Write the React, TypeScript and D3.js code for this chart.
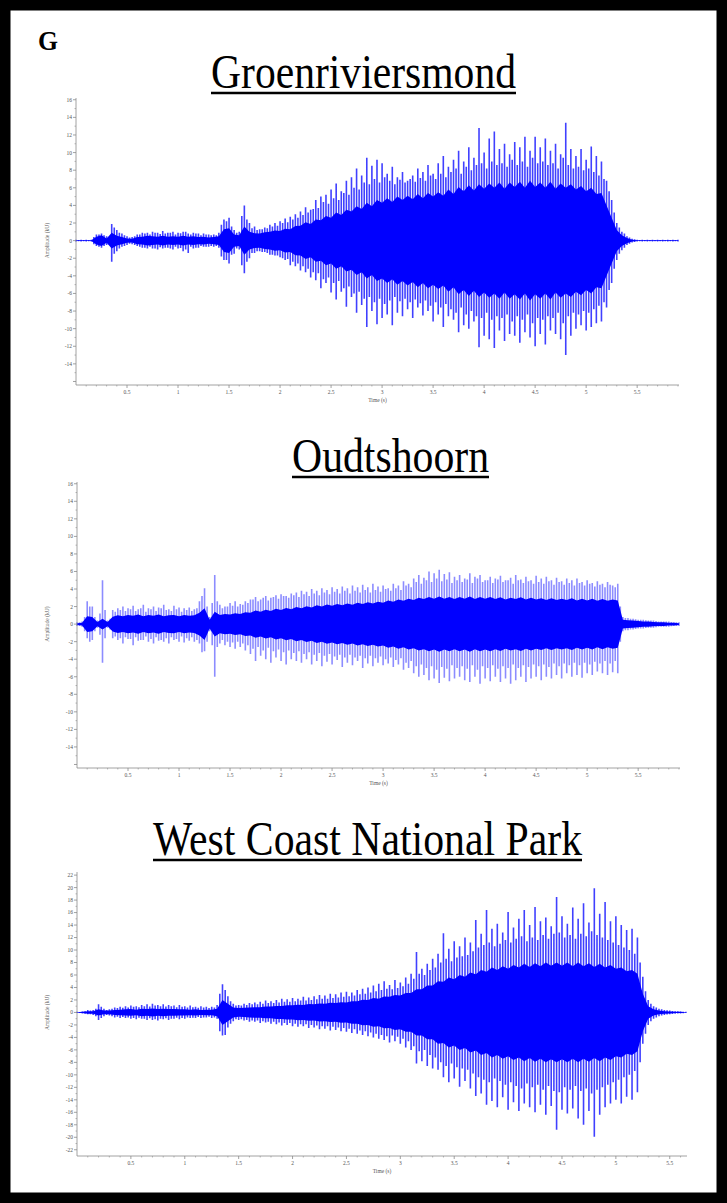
import * as d3 from "d3";

const W = 727;
const H = 1203;
const STEP = 0.05; // seconds between envelope samples

// Groenriviersmond — envelope samples every 0.05 s from t = 0
const groenTop = [
  0.1, 0.1, 0.1, 0.1, 0.7, 0.8, 0.5, 1.9, 1.2, 0.8, 0.5, 0.4, 0.7, 0.9, 0.9, 1.0, 0.9, 1.1, 0.9, 1.0,
  0.9, 1.0, 0.8, 0.9, 0.8, 0.8, 0.7, 0.7, 0.9, 2.4, 2.6, 1.2, 1.0, 4.0, 2.0, 1.6, 1.3, 1.5, 1.8, 2.0,
  2.2, 2.5, 2.7, 3.0, 3.3, 3.8, 3.5, 4.6, 5.0, 5.2, 5.8, 6.5, 5.6, 6.8, 7.2, 8.2, 7.4, 9.4, 8.5, 9.2,
  8.8, 7.6, 8.4, 7.2, 7.8, 6.8, 7.4, 8.2, 7.8, 8.6, 7.6, 8.8, 9.6, 8.4, 9.2, 10.2, 9.0, 10.6, 9.4, 12.8,
  10.0, 11.6, 12.4, 10.4, 11.0, 9.8, 11.2, 10.6, 11.8, 10.2, 11.8, 10.6, 11.6, 10.2, 11.0, 9.8, 13.4, 10.4, 9.6, 10.4,
  9.2, 10.7, 9.6, 9.0, 6.8, 4.6, 2.0, 1.0, 0.5, 0.2, 0.1, 0.1, 0.1, 0.1, 0.1, 0.1, 0.1, 0.1, 0.1,
];
const groenBottom = [
  -0.1, -0.1, -0.1, -0.1, -0.6, -0.8, -0.5, -2.4, -1.2, -0.7, -0.5, -0.4, -0.6, -0.8, -0.9, -0.9, -1.0, -0.9, -0.8, -1.0,
  -0.9, -1.2, -1.4, -0.9, -0.8, -0.7, -0.7, -0.7, -0.8, -2.2, -2.6, -1.5, -1.0, -3.7, -2.0, -1.4, -1.2, -1.3, -1.6, -1.7,
  -1.9, -2.2, -2.8, -2.9, -3.4, -3.6, -4.2, -4.5, -5.4, -4.8, -5.9, -6.7, -5.8, -7.5, -6.4, -8.2, -7.3, -9.8, -8.0, -9.5,
  -8.8, -8.4, -9.6, -8.2, -8.6, -7.8, -8.8, -7.6, -8.5, -8.0, -9.2, -8.4, -9.8, -8.6, -9.0, -10.4, -9.6, -10.0, -9.2, -12.1,
  -10.8, -11.2, -12.2, -10.2, -11.4, -10.6, -10.8, -11.6, -10.4, -11.0, -12.0, -10.6, -11.8, -10.2, -10.6, -11.2, -13.0, -10.8, -10.0, -9.6,
  -10.2, -9.8, -9.4, -9.2, -7.6, -4.8, -2.2, -1.1, -0.5, -0.2, -0.1, -0.1, -0.1, -0.1, -0.1, -0.1, -0.1, -0.1, -0.1,
];
// secondary peaks, half-way between the samples above (t = 0.025, 0.075, ...)
const groenMid = [
  0.08, 0.08, 0.08, 0.4, 0.7, 0.6, 0.4, 1.5, 0.9, 0.6, 0.35, 0.5, 0.7, 0.8, 0.7, 0.9, 0.75, 0.8, 0.9, 0.7,
  0.85, 1.0, 0.7, 0.8, 0.6, 0.7, 0.6, 0.6, 1.8, 2.2, 1.6, 0.9, 2.8, 2.4, 1.4, 1.2, 1.3, 1.4, 1.6, 1.7,
  2.0, 2.1, 2.4, 2.6, 2.9, 3.2, 3.6, 3.7, 4.4, 4.2, 4.8, 4.6, 5.4, 5.2, 6.0, 5.8, 6.6, 6.4, 7.0, 6.6,
  7.2, 6.8, 6.4, 6.9, 6.6, 7.0, 6.7, 7.1, 6.8, 7.4, 7.0, 7.6, 7.2, 7.8, 8.2, 7.6, 8.4, 8.0, 8.6, 8.8,
  8.2, 9.0, 8.6, 8.8, 8.4, 9.2, 8.6, 9.0, 8.4, 9.4, 8.8, 9.0, 8.6, 8.8, 8.2, 9.4, 8.6, 8.2, 8.4, 8.0,
  8.2, 7.8, 7.4, 7.0, 5.6, 3.2, 1.5, 0.8, 0.35, 0.15, 0.08, 0.08, 0.08, 0.08, 0.08, 0.08, 0.08, 0.08,
];
const groenCore = [
  0.05, 0.05, 0.05, 0.05, 0.45, 0.6, 0.25, 0.9, 0.55, 0.4, 0.25, 0.2, 0.4, 0.45, 0.55, 0.5, 0.45, 0.55, 0.45, 0.5,
  0.45, 0.55, 0.45, 0.5, 0.4, 0.45, 0.35, 0.4, 0.5, 1.3, 1.4, 0.7, 0.6, 1.6, 1.0, 0.85, 0.8, 0.95, 1.0, 1.15,
  1.1, 1.35, 1.3, 1.65, 1.7, 2.1, 1.9, 2.4, 2.3, 2.8, 2.6, 3.2, 2.9, 3.5, 3.3, 3.9, 3.6, 4.3, 3.9, 4.6,
  4.3, 4.8, 4.4, 5.0, 4.6, 5.1, 4.7, 5.3, 4.8, 5.4, 5.0, 5.5, 5.1, 5.8, 5.3, 6.1, 5.6, 6.3, 5.7, 6.4,
  5.9, 6.5, 6.0, 6.6, 5.9, 6.6, 6.1, 6.7, 6.0, 6.8, 6.1, 6.6, 6.0, 6.7, 5.9, 6.5, 6.0, 6.4, 5.8, 6.2,
  5.6, 6.0, 5.3, 5.4, 4.0, 2.6, 1.2, 0.6, 0.3, 0.1, 0.05, 0.05, 0.05, 0.05, 0.05, 0.05, 0.05, 0.05, 0.05,
];

// Oudtshoorn
const oudtTop = [
  0.2, 0.3, 2.6, 2.0, 0.4, 5.0, 0.4, 1.6, 1.8, 2.0, 1.8, 2.1, 1.7, 2.2, 1.8, 2.0, 1.9, 2.2, 1.7, 2.1,
  1.9, 1.8, 1.9, 1.7, 2.6, 4.1, 0.8, 5.6, 2.2, 2.0, 2.4, 2.6, 2.3, 2.6, 2.8, 3.1, 2.8, 3.2, 3.0, 3.3,
  3.4, 3.2, 3.5, 3.6, 3.8, 3.7, 4.0, 3.8, 4.1, 3.9, 4.2, 4.0, 4.3, 4.1, 4.4, 4.2, 4.5, 4.2, 4.6, 4.3,
  4.4, 4.1, 4.6, 4.4, 4.9, 4.6, 5.2, 5.6, 5.3, 6.0, 5.8, 6.2, 5.7, 5.9, 5.4, 5.6, 5.2, 5.8, 5.4, 5.6,
  5.0, 5.4, 5.2, 5.5, 5.0, 5.3, 5.6, 5.1, 5.4, 5.0, 5.5, 5.2, 5.4, 5.0, 5.3, 4.9, 5.2, 5.0, 5.2, 4.8,
  5.0, 4.7, 4.9, 4.6, 4.8, 4.4, 4.6, 0.8, 0.7, 0.6, 0.5, 0.5, 0.4, 0.4, 0.3, 0.3, 0.3, 0.2, 0.2,
];
const oudtBottom = [
  -0.2, -0.3, -1.6, -1.8, -0.4, -4.4, -0.4, -1.6, -1.8, -2.2, -1.7, -2.4, -1.9, -1.8, -2.0, -2.2, -1.9, -2.0, -2.2, -1.8,
  -2.0, -2.1, -1.9, -2.0, -2.2, -3.1, -0.8, -6.0, -2.2, -2.4, -2.6, -2.8, -2.6, -3.0, -3.4, -4.2, -3.6, -4.0, -4.4, -3.8,
  -4.2, -4.6, -4.0, -4.2, -4.4, -4.0, -4.6, -4.2, -4.8, -4.3, -4.6, -4.1, -4.9, -4.4, -4.7, -4.2, -5.0, -4.5, -4.8, -4.4,
  -4.7, -4.5, -4.9, -4.6, -5.2, -5.0, -5.6, -6.0, -5.8, -6.4, -6.2, -6.7, -6.1, -6.5, -6.2, -6.0, -6.4, -6.6, -6.0, -6.8,
  -6.2, -6.5, -6.0, -6.6, -6.2, -6.8, -6.4, -6.0, -6.6, -6.2, -6.0, -6.4, -6.0, -6.2, -5.8, -6.2, -5.6, -6.0, -5.8, -6.1,
  -5.6, -5.8, -5.4, -5.6, -5.8, -5.5, -5.6, -0.8, -0.7, -0.6, -0.5, -0.5, -0.4, -0.4, -0.3, -0.3, -0.3, -0.2, -0.2,
];
const oudtMid = [
  0.2, 0.8, 2.0, 0.8, 1.2, 1.6, 0.6, 1.4, 1.6, 1.5, 1.7, 1.5, 1.8, 1.4, 1.7, 1.5, 1.8, 1.6, 1.5, 1.7,
  1.4, 1.6, 1.5, 1.8, 3.2, 2.0, 2.4, 2.6, 1.8, 2.0, 2.1, 2.0, 2.2, 2.4, 2.8, 2.6, 3.0, 2.7, 3.1, 2.9,
  3.2, 3.0, 3.3, 3.1, 3.4, 3.2, 3.5, 3.3, 3.6, 3.4, 3.7, 3.5, 3.8, 3.5, 3.8, 3.6, 3.9, 3.6, 3.9, 3.7,
  4.0, 3.8, 4.1, 3.9, 4.4, 4.2, 4.8, 4.6, 5.0, 4.8, 5.2, 4.9, 5.1, 4.7, 5.0, 4.8, 5.1, 4.7, 5.2, 4.8,
  5.0, 4.7, 5.1, 4.8, 5.0, 4.6, 5.0, 4.7, 4.9, 4.6, 4.8, 4.6, 4.9, 4.5, 4.8, 4.5, 4.7, 4.4, 4.7, 4.4,
  4.6, 4.3, 4.5, 4.2, 4.5, 4.2, 2.0, 0.7, 0.6, 0.55, 0.5, 0.45, 0.4, 0.35, 0.3, 0.3, 0.25, 0.2,
];
const oudtCore = [
  0.1, 0.15, 0.9, 0.8, 0.25, 0.6, 0.25, 0.85, 1.0, 0.9, 1.05, 0.95, 1.1, 0.9, 1.05, 0.95, 1.1, 0.9, 1.0, 1.05,
  0.9, 1.05, 0.95, 1.0, 1.3, 1.8, 0.5, 1.4, 1.05, 1.15, 1.1, 1.25, 1.15, 1.35, 1.3, 1.55, 1.4, 1.65, 1.5, 1.75,
  1.6, 1.85, 1.7, 1.95, 1.8, 2.05, 1.9, 2.15, 2.0, 2.25, 2.1, 2.3, 2.15, 2.35, 2.2, 2.45, 2.3, 2.5, 2.35, 2.55,
  2.45, 2.7, 2.55, 2.8, 2.65, 2.9, 2.75, 3.0, 2.85, 3.1, 2.9, 3.15, 2.9, 3.1, 2.85, 3.1, 2.9, 3.15, 2.85, 3.1,
  2.9, 3.1, 2.85, 3.05, 2.8, 3.0, 2.85, 3.05, 2.8, 3.0, 2.8, 2.95, 2.75, 2.95, 2.75, 2.9, 2.75, 2.95, 2.7, 2.9,
  2.7, 2.9, 2.65, 2.85, 2.65, 2.8, 2.7, 0.5, 0.45, 0.4, 0.35, 0.3, 0.3, 0.25, 0.2, 0.2, 0.15, 0.15, 0.1,
];

// West Coast National Park
const westTop = [
  0.1, 0.15, 0.4, 0.4, 1.3, 0.6, 0.5, 0.8, 0.9, 1.0, 1.1, 1.0, 1.2, 1.3, 1.4, 1.2, 1.3, 1.2, 1.1, 1.2,
  1.0, 1.1, 0.9, 1.0, 0.9, 0.9, 1.2, 4.5, 2.6, 1.4, 1.2, 1.4, 1.5, 1.6, 1.7, 1.9, 1.8, 2.0, 2.2, 2.1,
  2.3, 2.2, 2.5, 2.4, 2.6, 2.8, 2.7, 3.0, 2.9, 3.2, 3.3, 3.2, 3.6, 3.8, 4.0, 4.3, 4.6, 5.0, 4.4, 5.2,
  4.8, 5.6, 6.2, 9.7, 7.0, 7.8, 8.6, 9.4, 12.7, 10.2, 11.4, 10.6, 12.0, 11.2, 14.8, 12.6, 16.4, 13.4, 14.2, 12.8,
  16.1, 13.6, 15.0, 16.4, 14.0, 16.9, 14.6, 15.2, 13.8, 18.5, 15.4, 14.2, 16.8, 15.0, 17.5, 14.4, 19.9, 15.8, 17.7, 14.6,
  15.4, 14.0, 13.2, 13.4, 12.0, 5.7, 2.0, 1.0, 0.6, 0.4, 0.3, 0.2, 0.15, 0.1,
];
const westBottom = [
  -0.1, -0.15, -0.3, -0.4, -1.2, -0.6, -0.5, -0.8, -0.9, -0.9, -1.0, -1.1, -1.0, -1.2, -1.2, -1.3, -1.1, -1.2, -1.0, -1.1,
  -1.0, -0.9, -0.9, -0.9, -0.8, -0.9, -1.0, -3.7, -2.4, -1.4, -1.2, -1.3, -1.5, -1.5, -1.7, -1.6, -1.8, -1.9, -2.1, -2.0,
  -2.2, -2.3, -2.2, -2.5, -2.4, -2.7, -2.6, -2.9, -2.8, -3.0, -3.1, -3.3, -3.4, -3.6, -3.8, -4.0, -4.2, -4.4, -4.8, -4.6,
  -5.0, -5.6, -6.0, -8.2, -7.8, -8.6, -9.0, -9.2, -10.4, -11.2, -10.6, -11.9, -11.0, -12.2, -13.4, -13.0, -14.8, -14.2, -15.2, -13.6,
  -15.6, -14.4, -15.8, -14.6, -15.2, -16.0, -14.8, -16.4, -15.0, -18.8, -15.6, -16.2, -15.4, -17.0, -18.0, -15.8, -19.9, -16.4, -15.2, -14.6,
  -14.0, -14.6, -13.5, -14.0, -12.8, -5.0, -2.0, -1.0, -0.6, -0.4, -0.3, -0.2, -0.15, -0.1,
];
const westMid = [
  0.08, 0.2, 0.3, 0.6, 0.9, 0.4, 0.6, 0.7, 0.75, 0.8, 0.9, 0.85, 1.0, 0.95, 1.1, 1.0, 0.95, 1.0, 0.85, 0.9,
  0.8, 0.85, 0.75, 0.8, 0.7, 0.8, 3.0, 3.6, 1.8, 1.1, 1.1, 1.2, 1.3, 1.3, 1.4, 1.5, 1.5, 1.6, 1.7, 1.7,
  1.8, 1.9, 1.9, 2.0, 2.1, 2.2, 2.2, 2.3, 2.4, 2.5, 2.6, 2.7, 2.9, 3.0, 3.2, 3.4, 3.6, 3.8, 3.7, 3.9,
  4.2, 4.6, 5.4, 6.2, 6.0, 6.8, 7.2, 8.0, 8.6, 8.2, 8.8, 9.0, 9.2, 9.8, 10.4, 10.8, 11.2, 10.6, 11.0, 11.6,
  11.2, 11.8, 12.2, 11.4, 12.0, 11.6, 12.4, 11.8, 12.6, 12.8, 12.0, 12.4, 11.8, 12.6, 12.2, 13.0, 12.4, 12.0, 11.6, 11.2,
  10.8, 10.4, 10.0, 9.4, 8.0, 3.4, 1.4, 0.8, 0.5, 0.35, 0.25, 0.18, 0.12,
];
const westCore = [
  0.05, 0.1, 0.2, 0.2, 0.5, 0.3, 0.3, 0.4, 0.45, 0.5, 0.55, 0.45, 0.6, 0.55, 0.65, 0.55, 0.6, 0.55, 0.55, 0.5,
  0.5, 0.45, 0.5, 0.4, 0.45, 0.45, 0.6, 2.0, 1.4, 0.8, 0.7, 0.75, 0.8, 0.85, 0.85, 0.95, 0.95, 1.05, 1.05, 1.15,
  1.15, 1.25, 1.2, 1.35, 1.3, 1.45, 1.4, 1.55, 1.5, 1.65, 1.6, 1.8, 1.8, 2.05, 2.0, 2.3, 2.2, 2.55, 2.5, 2.8,
  2.7, 3.1, 3.1, 3.7, 3.7, 4.3, 4.3, 5.0, 4.9, 5.6, 5.3, 6.0, 5.7, 6.4, 6.1, 6.8, 6.5, 7.2, 6.8, 7.4,
  7.0, 7.6, 7.2, 7.8, 7.3, 7.9, 7.4, 8.0, 7.5, 8.0, 7.5, 8.0, 7.4, 8.0, 7.4, 7.9, 7.3, 7.8, 7.2, 7.6,
  7.0, 7.2, 6.6, 6.8, 6.2, 3.0, 1.0, 0.5, 0.3, 0.2, 0.15, 0.1, 0.1, 0.05,
];

const xTickValues = [0.5, 1, 1.5, 2, 2.5, 3, 3.5, 4, 4.5, 5, 5.5];

type Panel = {
  title: string;
  titleX: [number, number];
  titleY: number;
  top: number[];
  bottom: number[];
  mid: number[];
  core: number[];
  tMax: number;
  xRange: [number, number];
  vDomain: [number, number];
  yRange: [number, number];
  yTickMax: number;
  labelBottom: boolean;
  spikeOpacity: number;
};

const panels: Panel[] = [
  {
    title: "Groenriviersmond",
    titleX: [211, 516],
    titleY: 88,
    top: groenTop,
    bottom: groenBottom,
    mid: groenMid,
    core: groenCore,
    tMax: 5.91,
    xRange: [76, 679],
    vDomain: [-16.4, 16.2],
    yRange: [385, 98],
    yTickMax: 16,
    labelBottom: false,
    spikeOpacity: 0.75,
  },
  {
    title: "Oudtshoorn",
    titleX: [292, 489],
    titleY: 472,
    top: oudtTop,
    bottom: oudtBottom,
    mid: oudtMid,
    core: oudtCore,
    tMax: 5.91,
    xRange: [77, 680],
    vDomain: [-16.4, 16.2],
    yRange: [768, 482],
    yTickMax: 16,
    labelBottom: false,
    spikeOpacity: 0.45,
  },
  {
    title: "West Coast National Park",
    titleX: [153, 582],
    titleY: 855,
    top: westTop,
    bottom: westBottom,
    mid: westMid,
    core: westCore,
    tMax: 5.66,
    xRange: [77, 687],
    vDomain: [-23, 22.5],
    yRange: [1156, 872],
    yTickMax: 22,
    labelBottom: true,
    spikeOpacity: 0.75,
  },
];

const SERIF = "'Liberation Serif', 'Times New Roman', serif";
const AXIS = "#8a8a8a";
const LABEL = "#555";

function WavePanel({ p }: { p: Panel }) {
  const x = d3.scaleLinear().domain([0, p.tMax]).range(p.xRange);
  const y = d3.scaleLinear().domain(p.vDomain).range(p.yRange);
  const [x0, x1] = p.xRange;
  const [yBot, yTop] = p.yRange;

  const coreArea = d3
    .area<number>()
    .x((_, i) => x(i * STEP))
    .y0((d) => y(-d))
    .y1((d) => y(d))(p.core);

  // vertical strokes: main peaks at each sample, secondary peaks half a step later
  const spikes = d3.path();
  p.top.forEach((v, i) => {
    const t = i * STEP;
    spikes.moveTo(x(t), y(v));
    spikes.lineTo(x(t), y(p.bottom[i]));
    if (i < p.mid.length) {
      const tm = t + STEP / 2;
      spikes.moveTo(x(tm), y(p.mid[i]));
      spikes.lineTo(x(tm), y(-p.mid[i]));
    }
  });

  const yMajor = d3.range(-p.yTickMax, p.yTickMax + 1, 2);
  const yMinor = d3.range(-p.yTickMax + 1, p.yTickMax, 2);
  const xMinor = d3.range(0.1, p.tMax, 0.1).filter((t) => Math.abs(t * 2 - Math.round(t * 2)) > 0.01);

  const midY = y(0);
  const titleW = p.titleX[1] - p.titleX[0];

  return (
    <g>
      <text
        x={p.titleX[0]}
        y={p.titleY}
        fontFamily={SERIF}
        fontSize={48}
        textLength={titleW}
        lengthAdjust="spacingAndGlyphs"
        fill="#000"
      >
        {p.title}
      </text>
      <line x1={p.titleX[0]} x2={p.titleX[1]} y1={p.titleY + 5} y2={p.titleY + 5} stroke="#000" strokeWidth={2.4} />

      {/* waveform */}
      <path d={spikes.toString()} fill="none" stroke="#0000ff" strokeWidth={1.6} strokeOpacity={p.spikeOpacity} />
      <path d={coreArea ?? ""} fill="#0000ff" />

      {/* y axis */}
      <line x1={x0} x2={x0} y1={yTop} y2={yBot} stroke={AXIS} strokeWidth={0.8} />
      {yMajor.map((v) => (
        <g key={`ym${v}`}>
          <line x1={x0 - 3} x2={x0} y1={y(v)} y2={y(v)} stroke={AXIS} strokeWidth={0.8} />
          {(v !== -p.yTickMax || p.labelBottom) && (
            <text x={x0 - 4} y={y(v)} dy="0.35em" textAnchor="end" fontFamily={SERIF} fontSize={5.5} fill={LABEL}>
              {v}
            </text>
          )}
        </g>
      ))}
      {yMinor.map((v) => (
        <line key={`yn${v}`} x1={x0 - 1.5} x2={x0} y1={y(v)} y2={y(v)} stroke={AXIS} strokeWidth={0.6} />
      ))}
      <text
        transform={`translate(49,${midY}) rotate(-90)`}
        textAnchor="middle"
        fontFamily={SERIF}
        fontSize={5.5}
        fill={LABEL}
      >
        Amplitude (kU)
      </text>

      {/* x axis */}
      <line x1={x0} x2={x1} y1={yBot} y2={yBot} stroke={AXIS} strokeWidth={0.8} />
      {xTickValues.map((t) => (
        <g key={`xm${t}`}>
          <line x1={x(t)} x2={x(t)} y1={yBot} y2={yBot + 3} stroke={AXIS} strokeWidth={0.8} />
          <text x={x(t)} y={yBot + 9} textAnchor="middle" fontFamily={SERIF} fontSize={5.5} fill={LABEL}>
            {t}
          </text>
        </g>
      ))}
      {xMinor.map((t) => (
        <line key={`xn${t}`} x1={x(t)} x2={x(t)} y1={yBot} y2={yBot + 1.5} stroke={AXIS} strokeWidth={0.6} />
      ))}
      <text x={(x0 + x1) / 2} y={yBot + 17} textAnchor="middle" fontFamily={SERIF} fontSize={5.5} fill={LABEL}>
        Time (s)
      </text>
    </g>
  );
}

export default function App() {
  return (
    <svg
      width={W}
      height={H}
      viewBox={`0 0 ${W} ${H}`}
      style={{ position: "absolute", left: 0, top: 0, background: "#fff" }}
    >
      <rect x={0} y={0} width={W} height={H} fill="#fff" />
      {panels.map((p) => (
        <WavePanel key={p.title} p={p} />
      ))}
      <text x={38} y={50} fontFamily={SERIF} fontWeight="bold" fontSize={27} textLength={20} lengthAdjust="spacingAndGlyphs">
        G
      </text>
      <rect x={5} y={5} width={W - 10} height={H - 10} fill="none" stroke="#000" strokeWidth={11} />
    </svg>
  );
}
